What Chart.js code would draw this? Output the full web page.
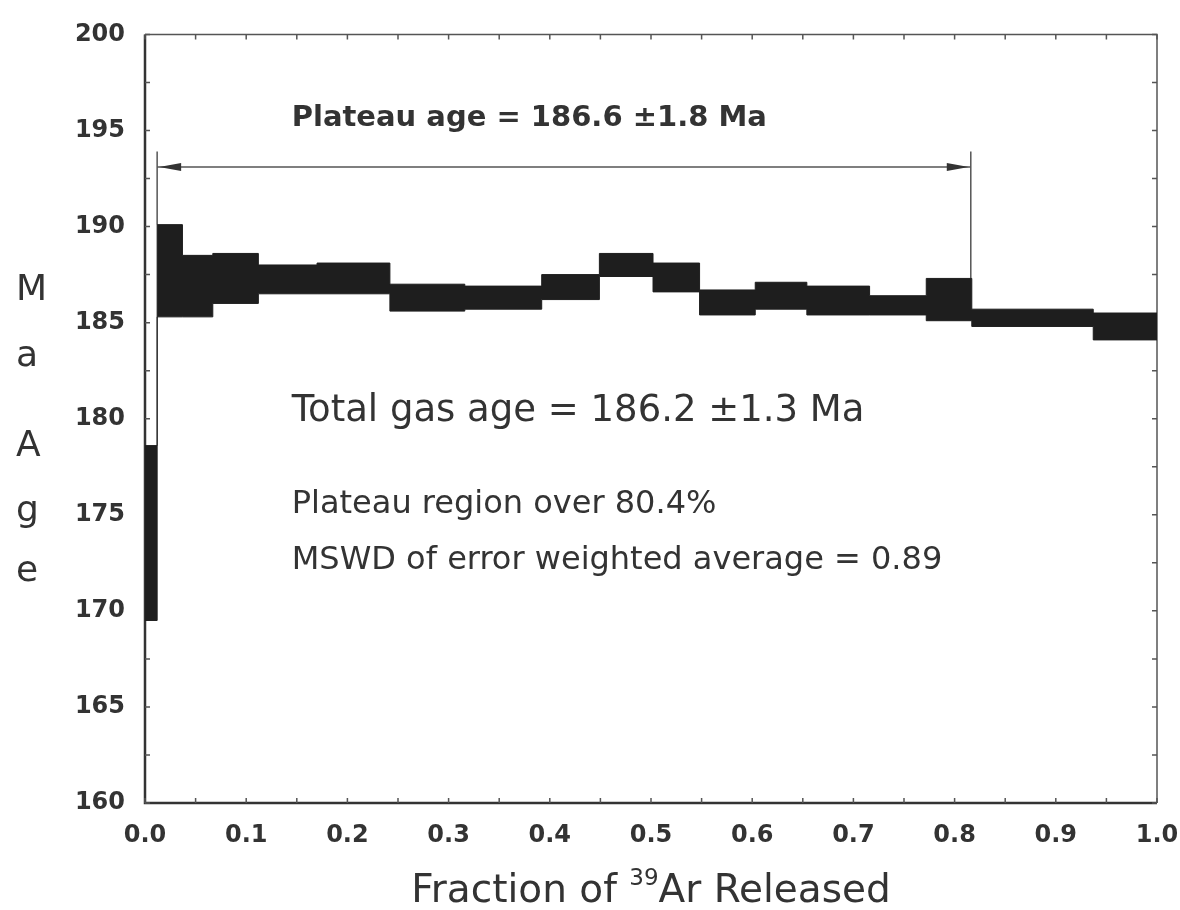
<!DOCTYPE html>
<html>
<head>
<meta charset="utf-8">
<script src="https://cdn.jsdelivr.net/npm/chart.js@4.4.1/dist/chart.umd.min.js"></script>
<style>
  html, body { margin: 0; padding: 0; background: #ffffff; }
  #chart { display: block; }
</style>
</head>
<body>
<canvas id="chart" width="1180" height="910"></canvas>
<script>
// step boundaries (fraction of 39Ar released)
const fraction = [0.000, 0.012, 0.037, 0.067, 0.112, 0.170, 0.242, 0.316, 0.392, 0.449,
                  0.502, 0.548, 0.603, 0.654, 0.716, 0.772, 0.817, 0.937, 1.000];
// upper / lower edge of each step (Ma)
const ageHigh = [178.6, 190.1, 188.5, 188.6, 188.0, 188.1, 187.0, 186.9, 187.5,
                 188.6, 188.1, 186.7, 187.1, 186.9, 186.4, 187.3, 185.7, 185.5];
const ageLow  = [169.5, 185.3, 185.3, 186.0, 186.5, 186.5, 185.6, 185.7, 186.2,
                 187.4, 186.6, 185.4, 185.7, 185.4, 185.4, 185.1, 184.8, 184.1];

// plateau bracket
const plateauFrom = 0.012;
const plateauTo = 0.816;
const plateauLineAge = 193.1;
const plateauTopAge = 193.9;

const yTicks = [160, 165, 170, 175, 180, 185, 190, 195, 200];
const xTicks = [0.0, 0.1, 0.2, 0.3, 0.4, 0.5, 0.6, 0.7, 0.8, 0.9, 1.0];

const notes = [
  { text: 'Plateau age = 186.6 \u00b11.8 Ma', x: 0.145, y: 195.6, font: 'bold 29px "DejaVu Sans"' },
  { text: 'Total gas age = 186.2 \u00b11.3 Ma', x: 0.145, y: 180.4, font: '37px "DejaVu Sans"' },
  { text: 'Plateau region over 80.4%', x: 0.145, y: 175.5, font: '32px "DejaVu Sans"' },
  { text: 'MSWD of error weighted average = 0.89', x: 0.145, y: 172.6, font: '32px "DejaVu Sans"' }
];

const ink = '#1e1e1e';
const textColor = '#333333';

function stepPoints(values) {
  return fraction.map((x, i) => ({ x: x, y: values[Math.min(i, values.length - 1)] }));
}

const framePlugin = {
  id: 'frame',
  beforeDatasetsDraw(chart) {
    const { ctx, chartArea: a, scales } = chart;
    ctx.save();
    ctx.strokeStyle = '#555';
    ctx.lineWidth = 1.5;
    // top + right
    ctx.beginPath();
    ctx.moveTo(a.left, a.top); ctx.lineTo(a.right, a.top); ctx.lineTo(a.right, a.bottom);
    ctx.stroke();
    // left + bottom, heavier
    ctx.strokeStyle = '#333';
    ctx.lineWidth = 2.5;
    ctx.beginPath();
    ctx.moveTo(a.left, a.top); ctx.lineTo(a.left, a.bottom); ctx.lineTo(a.right, a.bottom);
    ctx.stroke();
    // inward tick marks
    ctx.lineWidth = 1.5;
    ctx.strokeStyle = '#555';
    ctx.beginPath();
    for (let v = 160; v <= 200; v += 2.5) {
      const y = scales.y.getPixelForValue(v);
      ctx.moveTo(a.left, y); ctx.lineTo(a.left + 5, y);
      ctx.moveTo(a.right, y); ctx.lineTo(a.right - 5, y);
    }
    for (let v = 0; v <= 1.0001; v += 0.05) {
      const x = scales.x.getPixelForValue(v);
      ctx.moveTo(x, a.bottom); ctx.lineTo(x, a.bottom - 5);
      ctx.moveTo(x, a.top); ctx.lineTo(x, a.top + 5);
    }
    ctx.stroke();
    ctx.restore();
  },
  afterDraw(chart) {
    const { ctx, chartArea: a, scales } = chart;
    ctx.save();
    // arrow heads of the plateau bracket
    const yl = scales.y.getPixelForValue(plateauLineAge);
    const x0 = scales.x.getPixelForValue(plateauFrom);
    const x1 = scales.x.getPixelForValue(plateauTo);
    ctx.fillStyle = '#333';
    ctx.beginPath();
    ctx.moveTo(x0 + 2, yl); ctx.lineTo(x0 + 24, yl - 4); ctx.lineTo(x0 + 24, yl + 4); ctx.closePath();
    ctx.moveTo(x1 - 2, yl); ctx.lineTo(x1 - 24, yl - 4); ctx.lineTo(x1 - 24, yl + 4); ctx.closePath();
    ctx.fill();

    // annotations
    ctx.fillStyle = textColor;
    ctx.textBaseline = 'middle';
    ctx.textAlign = 'left';
    notes.forEach(n => {
      ctx.font = n.font;
      ctx.fillText(n.text, scales.x.getPixelForValue(n.x), scales.y.getPixelForValue(n.y));
    });

    // y axis title, stacked letters
    ctx.font = '36px "DejaVu Sans"';
    ctx.textBaseline = 'middle';
    [['M', 291], ['a', 357], ['A', 447], ['g', 512], ['e', 572]].forEach(([ch, y]) => {
      ctx.fillText(ch, 16, y);
    });

    // x axis title with superscript
    const big = '39px "DejaVu Sans"';
    const small = '23px "DejaVu Sans"';
    const p1 = 'Fraction of ', p2 = '39', p3 = 'Ar Released';
    ctx.font = big; const w1 = ctx.measureText(p1).width; const w3 = ctx.measureText(p3).width;
    ctx.font = small; const w2 = ctx.measureText(p2).width;
    const cx = (a.left + a.right) / 2;
    let x = cx - (w1 + w2 + w3) / 2;
    const base = 902;
    ctx.textBaseline = 'alphabetic';
    ctx.font = big; ctx.fillText(p1, x, base); x += w1;
    ctx.font = small; ctx.fillText(p2, x, base - 17); x += w2;
    ctx.font = big; ctx.fillText(p3, x, base);
    ctx.restore();
  }
};

new Chart(document.getElementById('chart'), {
  type: 'line',
  data: {
    datasets: [
      {
        label: 'upper',
        data: stepPoints(ageHigh),
        stepped: true,
        fill: '+1',
        backgroundColor: ink,
        borderColor: ink,
        borderWidth: 1,
        pointRadius: 0
      },
      {
        label: 'lower',
        data: stepPoints(ageLow),
        stepped: true,
        fill: false,
        borderColor: ink,
        borderWidth: 1,
        pointRadius: 0
      },
      {
        label: 'plateau',
        data: [{ x: plateauFrom, y: plateauLineAge }, { x: plateauTo, y: plateauLineAge }],
        borderColor: '#555',
        borderWidth: 1.5,
        pointRadius: 0,
        fill: false
      },
      {
        label: 'plateau start',
        data: [{ x: plateauFrom, y: plateauTopAge }, { x: plateauFrom, y: ageHigh[1] }],
        borderColor: '#555',
        borderWidth: 1.5,
        pointRadius: 0,
        fill: false
      },
      {
        label: 'plateau end',
        data: [{ x: plateauTo, y: plateauTopAge }, { x: plateauTo, y: ageHigh[15] }],
        borderColor: '#555',
        borderWidth: 1.5,
        pointRadius: 0,
        fill: false
      }
    ]
  },
  options: {
    responsive: false,
    animation: false,
    layout: { padding: { top: 33, right: 23, left: 0, bottom: 0 } },
    plugins: {
      legend: { display: false },
      tooltip: { enabled: false }
    },
    scales: {
      x: {
        type: 'linear',
        min: 0,
        max: 1,
        afterFit: s => { s.height = 107; s.paddingLeft = 0; s.paddingRight = 0; },
        afterBuildTicks: s => { s.ticks = xTicks.map(v => ({ value: v })); },
        grid: { display: false, drawTicks: false },
        border: { display: false },
        ticks: {
          padding: 18,
          maxRotation: 0,
          autoSkip: false,
          color: '#333',
          font: { family: 'DejaVu Sans', size: 24, weight: 'bold' },
          callback: v => Number(v).toFixed(1)
        }
      },
      y: {
        type: 'linear',
        min: 160,
        max: 200,
        afterFit: s => { s.width = 145; },
        afterBuildTicks: s => { s.ticks = yTicks.map(v => ({ value: v })); },
        grid: { display: false, drawTicks: false },
        border: { display: false },
        ticks: {
          padding: 20,
          color: '#333',
          font: { family: 'DejaVu Sans', size: 24, weight: 'bold' }
        }
      }
    }
  },
  plugins: [framePlugin]
});
</script>
</body>
</html>
